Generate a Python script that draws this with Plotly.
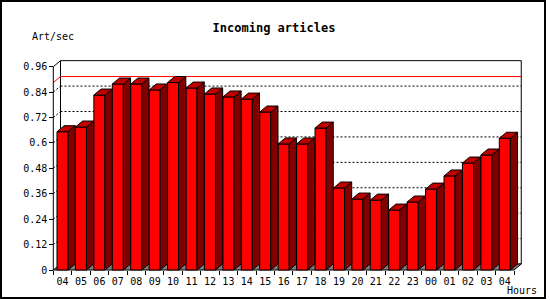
import plotly.graph_objects as go

# ---------------- data ----------------
hours = ["04", "05", "06", "07", "08", "09", "10", "11", "12", "13", "14", "15",
         "16", "17", "18", "19", "20", "21", "22", "23", "00", "01", "02", "03", "04"]
rates = [0.653, 0.675, 0.826, 0.878, 0.878, 0.850, 0.885, 0.859, 0.831, 0.817,
         0.807, 0.746, 0.595, 0.595, 0.670, 0.387, 0.335, 0.330, 0.283, 0.321,
         0.382, 0.444, 0.505, 0.543, 0.622]
y_tickvals = [0, 0.12, 0.24, 0.36, 0.48, 0.60, 0.72, 0.84, 0.96]
y_ticktext = ["0", "0.12", "0.24", "0.36", "0.48", "0.6", "0.72", "0.84", "0.96"]
max_rate = max(rates)

# ---------------- geometry / style ----------------
FW, FH = 550, 300
X0PX, SX = 53.3, 18.43      # pixel of x=-0.5, px per category
Y0PX, SY = 270.0, 211.8     # pixel of y=0, px per unit
DX = 7.2 / SX               # depth offset (data units)
DY = 6.0 / SY
L, R, T, B = 50, 26, 58, 27
W, H = FW - L - R, FH - T - B
x_min = -0.5 - (X0PX - L) / SX
x_max = x_min + W / SX
y_min = -((FH - B) - Y0PX) / SY
y_max = y_min + H / SY
n = len(hours)
BW = 0.6
YMAX = y_tickvals[-1]
FONT = "DejaVu Sans Mono"

FRONT, SIDE, TOP = "#ff0000", "#800000", "#c00000"

fig = go.Figure()

# front faces
fig.add_trace(go.Bar(x=list(range(n)), y=rates, width=BW,
                     marker=dict(color=FRONT, line=dict(color="black", width=1)),
                     hoverinfo="skip", showlegend=False))

# side faces and top faces
sx, sy, tx, ty = [], [], [], []
for i, v in enumerate(rates):
    x0, x1 = i - BW / 2, i + BW / 2
    sx += [x1, x1 + DX, x1 + DX, x1, x1, None]
    sy += [0, DY, v + DY, v, 0, None]
    tx += [x0, x1, x1 + DX, x0 + DX, x0, None]
    ty += [v, v, v + DY, v + DY, v, None]
fig.add_trace(go.Scatter(x=sx, y=sy, mode="lines", fill="toself", fillcolor=SIDE,
                         line=dict(color="black", width=1), hoverinfo="skip",
                         showlegend=False))
fig.add_trace(go.Scatter(x=tx, y=ty, mode="lines", fill="toself", fillcolor=TOP,
                         line=dict(color="black", width=1), hoverinfo="skip",
                         showlegend=False))

shapes = []
xl, xr = -0.5, n - 0.5
# back plane
shapes.append(dict(type="rect", xref="x", yref="y", x0=xl + DX, y0=DY, x1=xr + DX,
                   y1=YMAX + DY, fillcolor="white", line=dict(color="black", width=1),
                   layer="below"))
# grid lines (back plane + left wall)
for t in y_tickvals[1:-1]:
    shapes.append(dict(type="line", xref="x", yref="y", x0=xl + DX, y0=t + DY,
                       x1=xr + DX, y1=t + DY, line=dict(color="black", width=1, dash="2px,2px"),
                       layer="below"))
    shapes.append(dict(type="line", xref="x", yref="y", x0=xl, y0=t,
                       x1=xl + DX, y1=t + DY, line=dict(color="black", width=1, dash="2px,2px"),
                       layer="below"))
# max line
shapes.append(dict(type="path", xref="x", yref="y",
                   path=f"M {xl},{max_rate} L {xl + DX},{max_rate + DY} L {xr + DX},{max_rate + DY}",
                   line=dict(color="red", width=1), layer="below"))
# floor
shapes.append(dict(type="path", xref="x", yref="y",
                   path=f"M {xl},0 L {xr},0 L {xr + DX},{DY} L {xl + DX},{DY} Z",
                   fillcolor="#808080", line=dict(color="black", width=1), layer="below"))
# left wall outline / front axis
shapes.append(dict(type="path", xref="x", yref="y",
                   path=f"M {xl},0 L {xl},{YMAX} L {xl + DX},{YMAX + DY}",
                   line=dict(color="black", width=1), layer="below"))

# outer frame
def px2paper_x(px):
    return (px - L) / W

def px2paper_y(py):
    return ((FH - B) - py) / H

shapes.append(dict(type="rect", xref="paper", yref="paper",
                   x0=px2paper_x(1), y0=px2paper_y(298), x1=px2paper_x(545), y1=px2paper_y(1),
                   line=dict(color="black", width=2), fillcolor="rgba(0,0,0,0)"))

fig.update_layout(
    width=FW, height=FH,
    margin=dict(l=L, r=R, t=T, b=B, pad=0),
    paper_bgcolor="white", plot_bgcolor="white",
    showlegend=False,
    shapes=shapes,
    title=dict(text="Incoming articles", x=274 / FW, xref="container", xanchor="center",
               y=1 - 27.5 / FH, yref="container", yanchor="middle",
               font=dict(family=FONT, size=12, color="black", weight="bold")),
    xaxis=dict(range=[x_min, x_max], anchor="free",
               position=(0 - y_min) / (y_max - y_min),
               tickmode="array", tickvals=list(range(n)), ticktext=hours,
               ticks="outside", ticklen=2, tickcolor="rgba(0,0,0,0)",
               minor=dict(tickmode="array", tickvals=[i - 0.5 for i in range(n + 1)],
                          ticks="outside", ticklen=4, tickcolor="black", tickwidth=1),
               showgrid=False, zeroline=False, showline=False, fixedrange=True,
               tickfont=dict(family=FONT, size=10, color="black")),
    yaxis=dict(range=[y_min, y_max], anchor="free",
               position=(xl - x_min) / (x_max - x_min),
               tickmode="array", tickvals=y_tickvals, ticktext=y_ticktext,
               ticks="outside", ticklen=4, tickcolor="black", tickwidth=1,
               showgrid=False, zeroline=False, showline=False, fixedrange=True,
               tickfont=dict(family=FONT, size=10, color="black")),
    annotations=[
        dict(text="Art/sec", xref="paper", yref="paper", x=px2paper_x(30), y=px2paper_y(36.7),
             xanchor="left", yanchor="middle", showarrow=False,
             font=dict(family=FONT, size=10, color="black")),
        dict(text="Hours", xref="paper", yref="paper", x=px2paper_x(505), y=px2paper_y(290.5),
             xanchor="left", yanchor="middle", showarrow=False,
             font=dict(family=FONT, size=10, color="black")),
    ],
)

fig.write_html("out.html")
